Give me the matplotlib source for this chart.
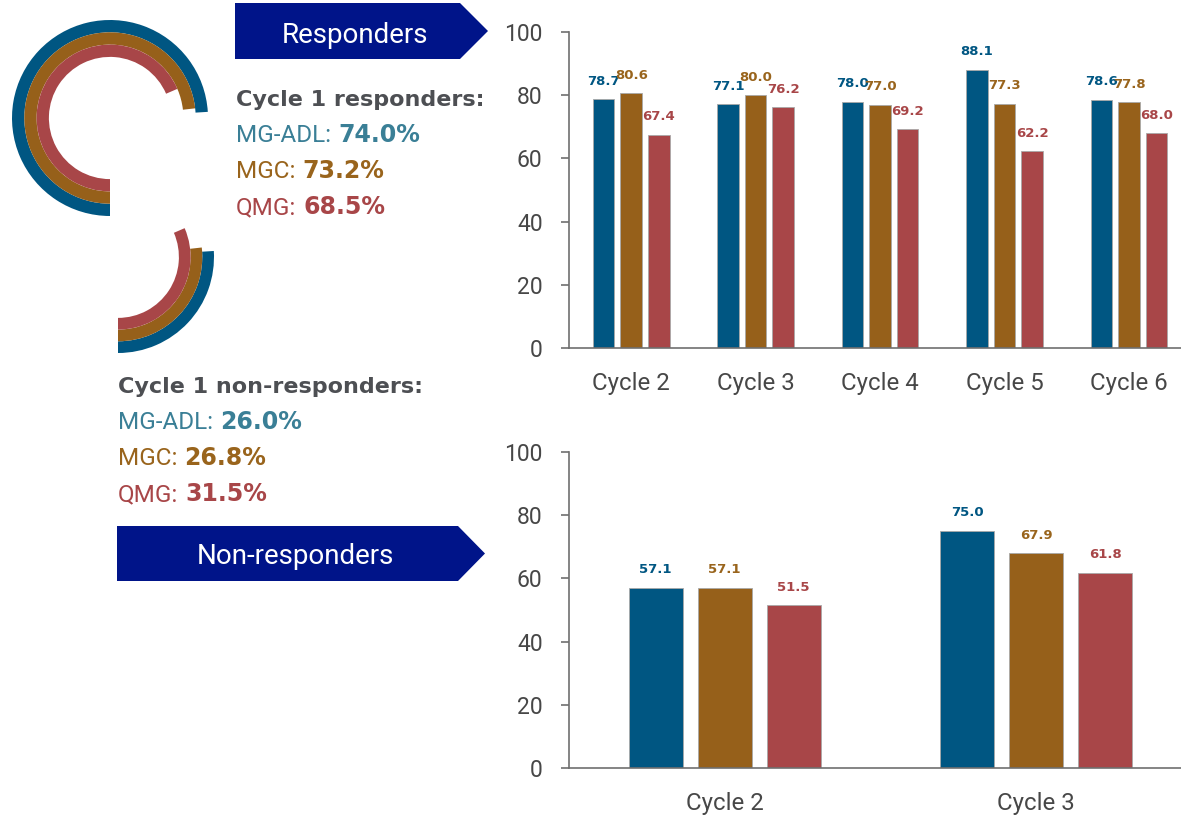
import matplotlib
matplotlib.use('Agg')
import matplotlib.pyplot as plt
from matplotlib.patches import Wedge, Polygon
import numpy as np

# ---------------- data ----------------
cycles_resp = ['Cycle 2', 'Cycle 3', 'Cycle 4', 'Cycle 5', 'Cycle 6']
mgadl_resp = [78.7, 77.1, 78.0, 88.1, 78.6]
mgc_resp = [80.6, 80.0, 77.0, 77.3, 77.8]
qmg_resp = [67.4, 76.2, 69.2, 62.2, 68.0]

cycles_non = ['Cycle 2', 'Cycle 3']
mgadl_non = [57.1, 75.0]
mgc_non = [57.1, 67.9]
qmg_non = [51.5, 61.8]

measures = ['MG-ADL', 'MGC', 'QMG']
c1_responders = [74.0, 73.2, 68.5]
c1_nonresponders = [26.0, 26.8, 31.5]

# ---------------- style ----------------
BAR_COLORS = ['#005682', '#96601A', '#A84648']
TXT_COLORS = ['#3A7F96', '#99641C', '#A84648']
LBL_COLORS = ['#005682', '#99641C', '#A84648']
HEAD = '#4D4F53'
BANNER = '#001489'
AXC = '#6f6f6f'
TICKC = '#474747'

W, H = 1181, 815
fig = plt.figure(figsize=(W / 100, H / 100), dpi=100)

# background overlay in pixel coordinates (y downward)
bg = fig.add_axes([0, 0, 1, 1])
bg.set_xlim(0, W)
bg.set_ylim(H, 0)
bg.axis('off')
bg.patch.set_alpha(0)

# ---------- rings ----------
def rings(cx, cy, R, w, pcts, clockwise_from_bottom):
    for i, (p, c) in enumerate(zip(pcts, BAR_COLORS)):
        sweep = p * 3.6
        r = R - i * w
        if clockwise_from_bottom:
            t1, t2 = 90, 90 + sweep
        else:
            t1, t2 = 90 - sweep, 90
        bg.add_patch(Wedge((cx, cy), r, t1, t2, width=w, facecolor=c,
                           edgecolor='none'))

rings(110, 118, 98, 12.3, c1_responders, True)
rings(118, 257, 96, 11.7, c1_nonresponders, False)

# ---------- banners ----------
def banner(x0, x1, xt, y0, y1, label, tx, tbase):
    ym = (y0 + y1) / 2
    bg.add_patch(Polygon([(x0, y0), (x1, y0), (xt, ym), (x1, y1), (x0, y1)],
                         closed=True, facecolor=BANNER, edgecolor='none'))
    bg.text(tx, tbase, label, color='white', fontsize=20, family='Roboto',
            ha='center', va='baseline')

banner(235, 460, 488, 3, 59, 'Responders', 355, 43)
banner(117, 458, 485, 526, 581, 'Non-responders', 295, 564)

# ---------- text blocks ----------
renderer = fig.canvas.get_renderer()
inv = bg.transData.inverted()

def two_part(x, y, reg, bold, color):
    t = bg.text(x, y, reg, fontsize=17.5, family='Roboto', color=color,
                va='baseline')
    bb = t.get_window_extent(renderer)
    x1 = inv.transform((bb.x1, bb.y0))[0]
    bg.text(x1 + 7, y, bold, fontsize=17, family='DejaVu Sans',
            weight='bold', color=color, va='baseline')

def block(x, y0, heading, pcts):
    bg.text(x, y0, heading, fontsize=16, family='DejaVu Sans', weight='bold',
            color=HEAD, va='baseline')
    for i, (m, p) in enumerate(zip(measures, pcts)):
        two_part(x, y0 + 36 * (i + 1), f'{m}:', f'{p:.1f}%', TXT_COLORS[i])

block(236, 106, 'Cycle 1 responders:', c1_responders)
block(118, 393, 'Cycle 1 non-responders:', c1_nonresponders)

# ---------- bar charts ----------
STEP, WIDTH = 0.2215, 0.173

def bar_chart(ax, cats, series, xmax):
    x = np.arange(len(cats))
    for i, vals in enumerate(series):
        pos = x + (i - 1) * STEP
        ax.bar(pos, vals, WIDTH, color=BAR_COLORS[i], edgecolor='#a8a8a8',
               linewidth=0.6, zorder=2)
        for p, v in zip(pos, vals):
            ax.annotate(f'{v:.1f}', (p, v), xytext=(0, 13),
                        textcoords='offset points', ha='center', va='center',
                        fontsize=9.5, weight='bold', color=LBL_COLORS[i],
                        family='DejaVu Sans', annotation_clip=False)
    ax.set_xlim(-0.5, xmax)
    ax.set_ylim(0, 100)
    ax.set_yticks(np.arange(0, 101, 20))
    ax.set_xticks(x)
    ax.set_xticklabels(cats, family='Roboto', fontsize=17.3, color=TICKC)
    for lab in ax.get_yticklabels():
        lab.set_family('Roboto')
    ax.tick_params(axis='y', length=6, width=1.2, color=AXC, labelsize=16.5,
                   labelcolor=TICKC, pad=13)
    ax.tick_params(axis='x', length=0, pad=17.5)
    for s in ['top', 'right']:
        ax.spines[s].set_visible(False)
    for s in ['left', 'bottom']:
        ax.spines[s].set_color(AXC)
        ax.spines[s].set_linewidth(1.2)
    ax.patch.set_alpha(0)

ax1 = fig.add_axes([569 / W, (H - 348) / H, (W - 569) / W, 316 / H])
bar_chart(ax1, cycles_resp, [mgadl_resp, mgc_resp, qmg_resp],
          (1181 - 631) / 124.5)

ax2 = fig.add_axes([569 / W, (H - 768) / H, (W - 569) / W, 316 / H])
bar_chart(ax2, cycles_non, [mgadl_non, mgc_non, qmg_non],
          (1181 - 724.5) / 311.5)

fig.savefig('out.png', dpi=100)
